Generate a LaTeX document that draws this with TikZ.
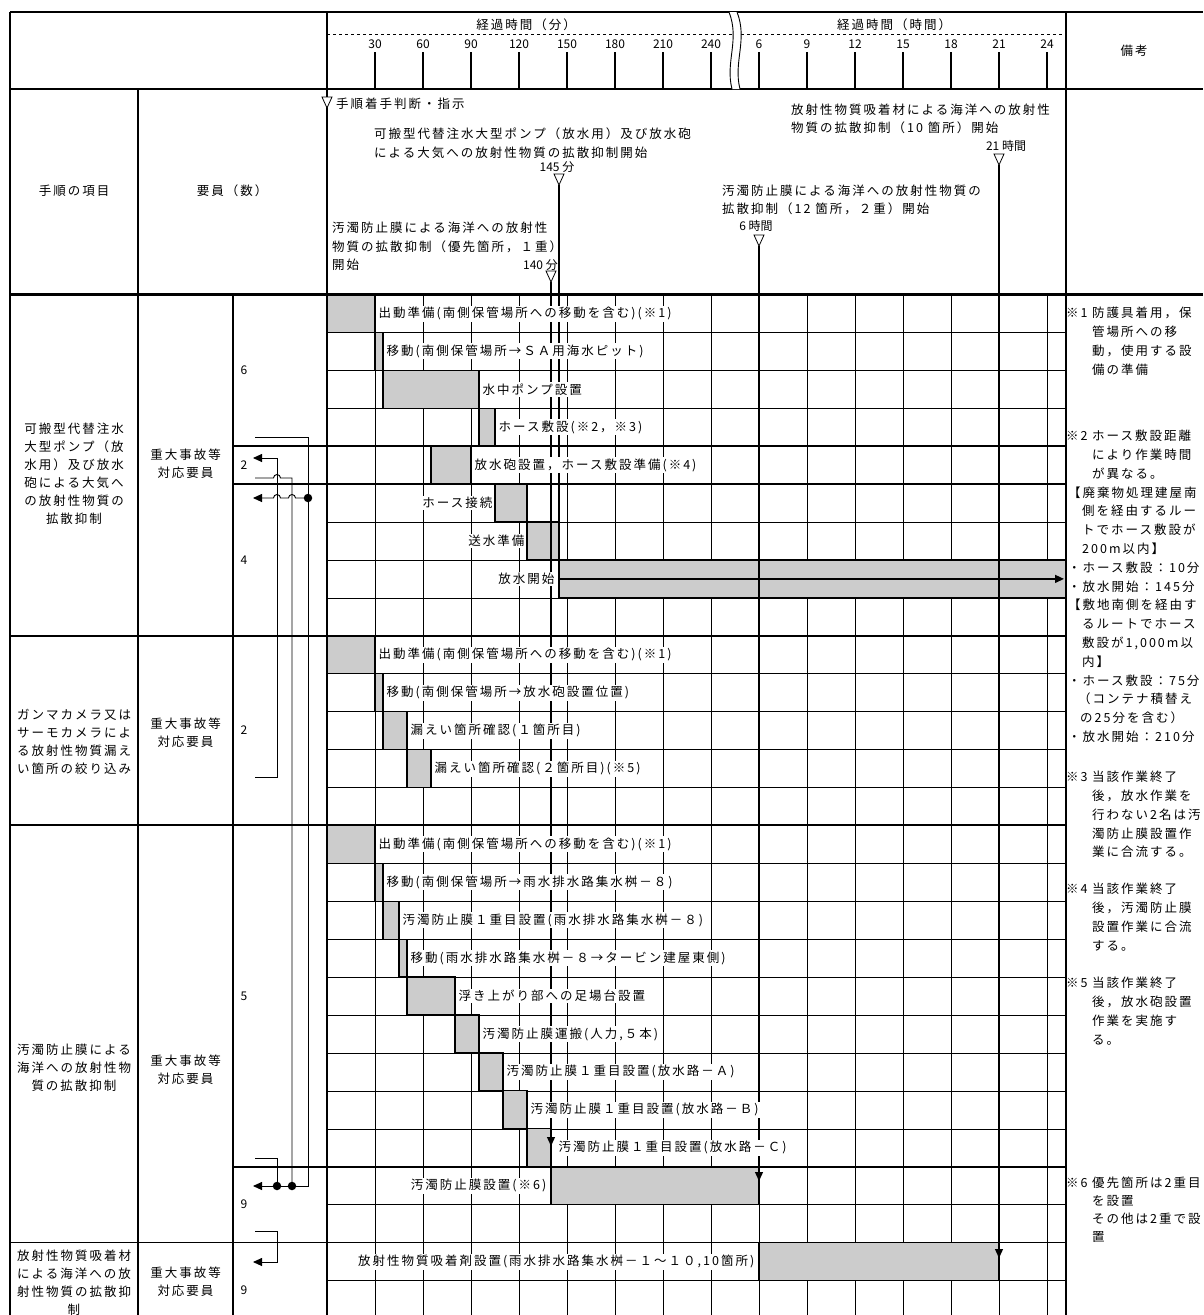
\documentclass[tikz,border=0pt]{standalone}
\usepackage{fontspec}
\newfontfamily\jpf{Noto Sans CJK JP}[LetterSpace=16]
\newfontfamily\jpn{Noto Sans CJK JP}
\usetikzlibrary{arrows.meta}

\begin{document}
\begin{tikzpicture}[x=1pt, y=-1pt,
  jt/.style={font=\jpf\fontsize{12.5}{18}\selectfont, inner sep=0pt},
  hd/.style={jt, align=left, anchor=north west},
  rmk/.style={jt, anchor=base west},
  col/.style={jt, align=center},
  num/.style={font=\jpn\fontsize{12}{14}\selectfont, inner sep=0pt},
  task/.style={font=\jpf\fontsize{12.5}{14}\selectfont, fill=white, inner sep=1.5pt},
  work/.style={fill=black!20, draw, line width=1.3pt},
  gline/.style={line width=0.8pt},
  rline/.style={line width=0.5pt},
  sline/.style={line width=1.8pt},
  mline/.style={line width=1.3pt},
  flow/.style={line width=0.9pt},
  arrowhd/.style={-{Triangle[length=9pt,width=8pt]}},
  jdot/.style={circle, fill, inner sep=0pt, minimum size=8.5pt},
  tri/.pic={\draw[fill=white, line width=0.8pt] (-5,0) -- (5,0) -- (0,11) -- cycle;}]

\useasboundingbox (0,0) rectangle (1203,1315);

% frame
\draw[line width=1.5pt] (10,12) -- (1203,12);
\draw[line width=1.5pt] (10,89) -- (1203,89);
\draw[line width=1.5pt] (10,12) -- (10,1315);
\draw[line width=1.2pt] (138,89) -- (138,1315);
\draw[line width=1.5pt] (233,294.5) -- (233,1315);
\draw[line width=1.2pt] (327,12) -- (327,1315);
\draw[line width=1.5pt] (1066,12) -- (1066,1315);

% time axis
\draw[dashed, line width=1pt] (327,34) -- (1066,34);
\foreach \x/\t in {375/30,423/60,471/90,519/120,567/150,615/180,663/210,711/240,
                   759/6,807/9,855/12,903/15,951/18,999/21,1047/24}{
  \draw[line width=1.5pt] (\x,52) -- (\x,89);
  \node[num] (k\t) at (\x,44) {\t};
}
\fill[white] (729,12) .. controls (740,40) and (725,62) .. (732,89) -- (740,89)
  .. controls (733,62) and (748,40) .. (737,12) -- cycle;
\draw[line width=0.9pt] (729,12) .. controls (740,40) and (725,62) .. (732,89);
\draw[line width=0.9pt] (737,12) .. controls (748,40) and (733,62) .. (740,89);

\node[jt] (tmin) at (526,25) {経過時間（分）};
\node[jt] (thr) at (894,25) {経過時間（時間）};
\node[jt] (note) at (1134,51) {備考};
\node[jt] (item) at (74,191) {手順の項目};
\node[jt] (staff) at (232,191) {要員（数）};

% grid
\foreach \x in {375,423,...,1047} \draw[gline] (\x,294.5) -- (\x,1315);
\foreach \n in {1,2,3,6,7,8,10,11,12,13,15,16,17,18,19,20,21,22,24,26}
  \draw[rline] (327,{294.5+37.92*\n}) -- (1066,{294.5+37.92*\n});

% work bars
\foreach \a/\b/\n in {327/375/0, 375/383/1, 383/479/2, 479/495/3, 431/471/4, 495/527/5, 527/559/6, 559/1066/7,
    327/375/9, 375/383/10, 383/407/11, 407/431/12,
    327/375/14, 375/383/15, 383/399/16, 399/407/17, 407/455/18, 455/479/19, 479/503/20, 503/527/21, 527/551/22, 551/759/23,
    759/999/25}
  \draw[work] (\a,{294.5+37.92*\n}) rectangle (\b,{294.5+37.92*(\n+1)});

\foreach \n in {4,5,23} \draw[sline] (233,{294.5+37.92*\n}) -- (1066,{294.5+37.92*\n});
\foreach \n in {9,14,25} \draw[sline] (10,{294.5+37.92*\n}) -- (1066,{294.5+37.92*\n});
\draw[line width=3pt] (10,294.5) -- (1203,294.5);

% start marks
\draw[mline] (559,185) -- (559,559.9);
\draw[mline, arrowhd] (551,282) -- (551,1146);
\draw[mline, arrowhd] (759,246) -- (759,1181);
\draw[mline, arrowhd] (999,165) -- (999,1258);
\draw[mline, arrowhd] (559,578.9) -- (1064,578.9);
\pic (m0) at (327,97) {tri};
\pic (m145) at (559,174) {tri};
\pic (m140) at (551,271) {tri};
\pic (m6) at (759,235) {tri};
\pic (m21) at (999,154) {tri};

\node[jt, anchor=west] (s0t) at (336,104) {手順着手判断・指示};
\node[hd, font=\jpf\fontsize{12.5}{19}\selectfont] (s1t) at (374,127.5)
  {可搬型代替注水大型ポンプ（放水用）及び放水砲\\による大気への放射性物質の拡散抑制開始};
\node[num] (s1n) at (557,167) {145 分};
\node[hd, font=\jpf\fontsize{12.5}{18.5}\selectfont] (s2t) at (332,222)
  {汚濁防止膜による海洋への放射性\\物質の拡散抑制（優先箇所，１重）\\開始};
\node[num, anchor=east] (s2n) at (558,265) {140 分};
\node[hd] (s3t) at (791,104)
  {放射性物質吸着材による海洋への放射性\\物質の拡散抑制（10 箇所）開始};
\node[num] (s3n) at (1006,146) {21 時間};
\node[hd] (s4t) at (722,185)
  {汚濁防止膜による海洋への放射性物質の\\拡散抑制（12 箇所，２重）開始};
\node[num] (s4n) at (756,226) {6 時間};

% procedure items
\node[col] (p1) at (74,474) {可搬型代替注水\\大型ポンプ（放\\水用）及び放水\\砲による大気へ\\の放射性物質の\\拡散抑制};
\node[col] (p2) at (74,742) {ガンマカメラ又は\\サーモカメラによ\\る放射性物質漏え\\い箇所の絞り込み};
\node[col] (p3) at (74,1068) {汚濁防止膜による\\海洋への放射性物\\質の拡散抑制};
\node[col] (p4) at (74,1283) {放射性物質吸着材\\による海洋への放\\射性物質の拡散抑\\制};
\node[col] (q1) at (185.5,464) {重大事故等\\対応要員};
\node[col] (q2) at (185.5,733) {重大事故等\\対応要員};
\node[col] (q3) at (185.5,1070) {重大事故等\\対応要員};
\node[col] (q4) at (185.5,1282) {重大事故等\\対応要員};
\node[num] (g1) at (244,370.4) {6};
\node[num] (g2) at (244,465.2) {2};
\node[num] (g3) at (244,560) {4};
\node[num] (g4) at (244,730.6) {2};
\node[num] (g5) at (244,996) {5};
\node[num] (g6) at (244,1204.6) {9};
\node[num] (g7) at (244,1290) {9};

% task labels
\node[task, anchor=west] (a1) at (377,313.5) {出動準備(南側保管場所への移動を含む)(※1)};
\node[task, anchor=west] (a2) at (385,351.4) {移動(南側保管場所→ＳＡ用海水ピット)};
\node[task, anchor=west] (a3) at (481,389.3) {水中ポンプ設置};
\node[task, anchor=west] (a4) at (497,427.2) {ホース敷設(※2，※3)};
\node[task, anchor=west] (a5) at (473,465.2) {放水砲設置，ホース敷設準備(※4)};
\node[task, anchor=east] (a6) at (494,503.1) {ホース接続};
\node[task, anchor=east] (a7) at (526,541.0) {送水準備};
\node[task, anchor=east] (a8) at (556,578.9) {放水開始};
\node[task, anchor=west] (b1) at (377,654.8) {出動準備(南側保管場所への移動を含む)(※1)};
\node[task, anchor=west] (b2) at (385,692.7) {移動(南側保管場所→放水砲設置位置)};
\node[task, anchor=west] (b3) at (409,730.6) {漏えい箇所確認(１箇所目)};
\node[task, anchor=west] (b4) at (433,768.5) {漏えい箇所確認(２箇所目)(※5)};
\node[task, anchor=west] (c1) at (377,844.4) {出動準備(南側保管場所への移動を含む)(※1)};
\node[task, anchor=west] (c2) at (385,882.3) {移動(南側保管場所→雨水排水路集水桝－８)};
\node[task, anchor=west] (c3) at (401,920.2) {汚濁防止膜１重目設置(雨水排水路集水桝－８)};
\node[task, anchor=west] (c4) at (409,958.1) {移動(雨水排水路集水桝－８→タービン建屋東側)};
\node[task, anchor=west] (c5) at (457,996.1) {浮き上がり部への足場台設置};
\node[task, anchor=west] (c6) at (481,1034.0) {汚濁防止膜運搬(人力,５本)};
\node[task, anchor=west] (c7) at (505,1071.9) {汚濁防止膜１重目設置(放水路－Ａ)};
\node[task, anchor=west] (c8) at (529,1109.8) {汚濁防止膜１重目設置(放水路－Ｂ)};
\node[task, anchor=west] (c9) at (557,1147.7) {汚濁防止膜１重目設置(放水路－Ｃ)};
\node[task, anchor=east] (c10) at (548,1185.7) {汚濁防止膜設置(※6)};
\node[task, anchor=east] (d1) at (756,1261.5) {放射性物質吸着剤設置(雨水排水路集水桝－１～１０,10箇所)};

% staff flow
\draw[flow, arrowhd] (255,437) -- (308,437) -- (308,1186) -- (253,1186);
\draw[flow, arrowhd] (308,498) -- (295.5,498) arc[start angle=0, end angle=-180, radius=3.5]
  -- (280.5,498) arc[start angle=0, end angle=-180, radius=3.5] -- (253,498);
\draw[flow, arrowhd] (255,777) -- (277,777) -- (277,458) -- (253,458);
\draw[flow] (255,478) -- (273.5,478) arc[start angle=180, end angle=360, radius=3.5] -- (292,478) -- (292,1186);
\draw[flow] (255,1158) -- (277,1158) -- (277,1186);
\draw[flow, arrowhd] (255,1231) -- (277,1231) -- (277,1262) -- (253,1262);
\node[jdot] (j1) at (308,498) {};
\node[jdot] (j2) at (292,1186) {};
\node[jdot] (j3) at (277,1186) {};

% remarks
\foreach \y/\s in {313/※1, 436/※2, 777/※3, 889/※4, 983/※5, 1183/※6}
  \node[rmk] (n\y) at (1066,\y+4.7) {\s};
\foreach \s [count=\i from 0] in {防護具着用，保, 管場所への移, 動，使用する設, 備の準備}
  \node[rmk] (r1-\i) at (1092,{317.7+18.8*\i}) {\s};
\foreach \x/\s [count=\i from 0] in {1092/ホース敷設距離, 1092/により作業時間, 1092/が異なる。,
    1068/【廃棄物処理建屋南, 1082/側を経由するルー, 1082/トでホース敷設が, 1082/200m以内】,
    1068/・ホース敷設：10分, 1068/・放水開始：145分, 1068/【敷地南側を経由す,
    1082/るルートでホース, 1082/{敷設が1,000m以}, 1082/内】, 1068/・ホース敷設：75分,
    1078/（コンテナ積替え, 1080/の25分を含む）, 1068/・放水開始：210分}
  \node[rmk] (r2-\i) at (\x,{440.7+18.8*\i}) {\s};
\foreach \s [count=\i from 0] in {当該作業終了, 後，放水作業を, 行わない2名は汚, 濁防止膜設置作, 業に合流する。}
  \node[rmk] (r3-\i) at (1092,{781.7+18.8*\i}) {\s};
\foreach \s [count=\i from 0] in {当該作業終了, 後，汚濁防止膜, 設置作業に合流, する。}
  \node[rmk] (r4-\i) at (1092,{893.7+18.8*\i}) {\s};
\foreach \s [count=\i from 0] in {当該作業終了, 後，放水砲設置, 作業を実施す, る。}
  \node[rmk] (r5-\i) at (1092,{987.7+18.8*\i}) {\s};
\foreach \s [count=\i from 0] in {優先箇所は2重目, を設置, その他は2重で設, 置}
  \node[rmk] (r6-\i) at (1092,{1187.7+18*\i}) {\s};
\end{tikzpicture}
\end{document}
